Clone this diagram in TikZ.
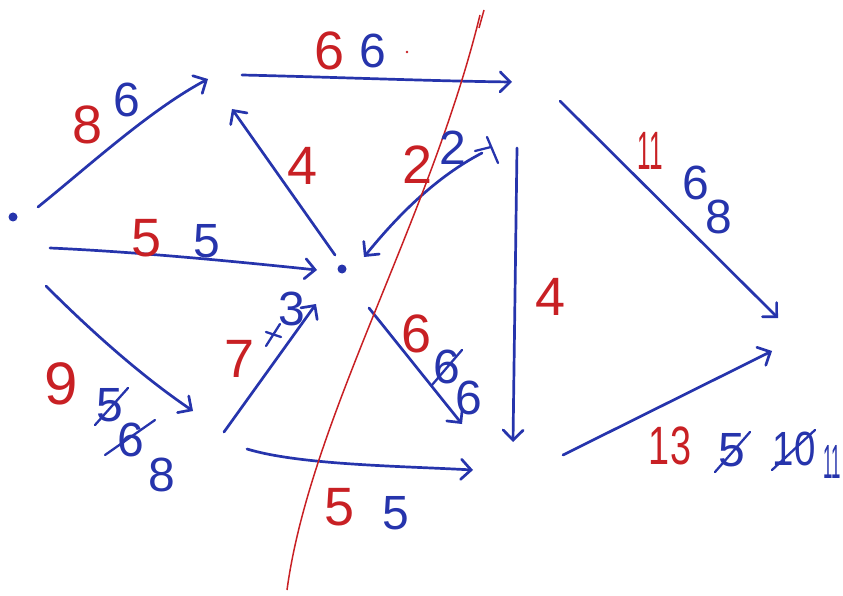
\documentclass[tikz,border=0pt]{standalone}
\usepackage{fontspec}
\setmainfont{Liberation Sans}
\usetikzlibrary{arrows.meta}
\definecolor{ink}{RGB}{38,52,172}
\definecolor{pen}{RGB}{200,32,36}
\tikzset{
  edge/.style={draw=ink, line width=2.7pt, line cap=round,
    -{Straight Barb[length=10pt,width=20pt,line cap=round]}},
  rl/.style={text=pen, font=\fontsize{54}{54}\selectfont, inner sep=0pt},
  bl/.style={text=ink, font=\fontsize{48}{48}\selectfont, inner sep=0pt},
  strike/.style={draw=ink, line width=2.3pt, line cap=round},
  cut/.style={draw=pen, line width=1.5pt},
  vdot/.style={fill=ink, circle, inner sep=0pt, minimum size=9pt},
}
\begin{document}
\begin{tikzpicture}[x=1pt,y=-1pt]
\useasboundingbox (0,0) rectangle (843,596);
% vertex dots
\node[vdot] (s) at (13,217) {};
\node[vdot] (c) at (342,269) {};
% edge end points
\coordinate (sA) at (38,207);   \coordinate (aS) at (208,79);
\coordinate (aB0) at (242,75);  \coordinate (bA) at (512,82);
\coordinate (cA0) at (335,255); \coordinate (aC) at (232,109);
\coordinate (sC) at (50,248);   \coordinate (cS) at (317,270);
\coordinate (bC) at (482,153);  \coordinate (cB) at (364,257);
\coordinate (dC) at (224,432);  \coordinate (cD) at (316,304);
\coordinate (cE0) at (369,308); \coordinate (eC) at (462,424);
\coordinate (sD) at (46,286);   \coordinate (dS) at (193,411);
\coordinate (dE) at (247,449);  \coordinate (eD) at (473,470);
\coordinate (bE) at (517,148);  \coordinate (eB) at (513,442);
\coordinate (bT) at (560,101);  \coordinate (tB) at (778,318);
\coordinate (eT) at (563,455);  \coordinate (tE) at (772,351);
% connectors
\draw[edge] (sA) .. controls (90,165) and (150,110) .. (aS);
\draw[edge] (aB0) .. controls (330,77) and (430,81) .. (bA);
\draw[edge] (cA0) -- (aC);
\draw[edge] (sC) .. controls (140,252) and (240,262) .. (cS);
\draw[edge] (bC) .. controls (430,180) and (390,225) .. (cB);
\draw[edge] (dC) -- (cD);
\draw[edge] (cE0) -- (eC);
\draw[edge] (sD) .. controls (90,330) and (140,375) .. (dS);
\draw[edge] (dE) .. controls (300,465) and (400,466) .. (eD);
\draw[edge] (bE) -- (eB);
\draw[edge] (bT) -- (tB);
\draw[edge] (eT) -- (tE);
% cut line
\draw[cut] (480,15) .. controls (430,220) and (310,420) .. (287,590);
\draw[cut] (484,10) -- (479,28);
% labels s->a
\node[rl] (l1r) at (88,125) {8};
\node[bl] (l1b) at (127,100) {6};
% a->b
\node[rl] (l2r) at (330,51) {6};
\node[bl] (l2b) at (373,51) {6};
\fill[pen] (407,52) circle (1.4);
% c->a
\node[rl] (l3r) at (303,166) {4};
% s->c
\node[rl] (l4r) at (147,238) {5};
\node[bl] (l4b) at (207,241) {5};
% b->c
\node[rl] (l5r) at (418,165) {2};
\node[bl] (l5b) at (453,148) {2};
\draw[strike] (475,151) -- (491,147);
\draw[strike] (487,137) -- (498,163);
% d->c
\node[rl] (l6r) at (240,359) {7};
\node[bl] (l6b) at (292,309) {3};
\draw[strike] (266,346) -- (280,324);
\draw[strike] (266,332) -- (281,337);
% c->e
\node[rl] (l7r) at (417,334) {6};
\node[bl] (l7x) at (447,367) {6};
\draw[strike] (432,385) -- (462,350);
\node[bl] (l7b) at (469,398) {6};
% s->d
\node[rl, font=\fontsize{60}{60}\selectfont] (l8r) at (61,384) {9};
\node[bl] (l8x) at (110,405) {5};
\draw[strike] (95,425) -- (128,388);
\node[bl] (l8y) at (131,440) {6};
\draw[strike] (105,455) -- (155,420);
\node[bl] (l8b) at (162,475) {8};
% d->e
\node[rl] (l9r) at (340,507) {5};
\node[bl] (l9b) at (396,513) {5};
% b->e
\node[rl] (l10r) at (551,297) {4};
% b->t
\node[rl] (l11r) at (650,151) {\scalebox{0.45}[1]{11}};
\node[bl] (l11b) at (696,183) {6};
\node[bl] (l11c) at (719,217) {8};
% e->t
\node[rl] (l12r) at (670,446) {\scalebox{0.7}[1]{13}};
\node[bl] (l12x) at (732,450) {5};
\draw[strike] (715,472) -- (750,432);
\node[bl] (l12y) at (794,449) {\scalebox{0.8}[1]{10}};
\draw[strike] (772,470) -- (815,430);
\node[bl] (l12b) at (832,462) {\scalebox{0.35}[1]{11}};
\end{tikzpicture}
\end{document}
